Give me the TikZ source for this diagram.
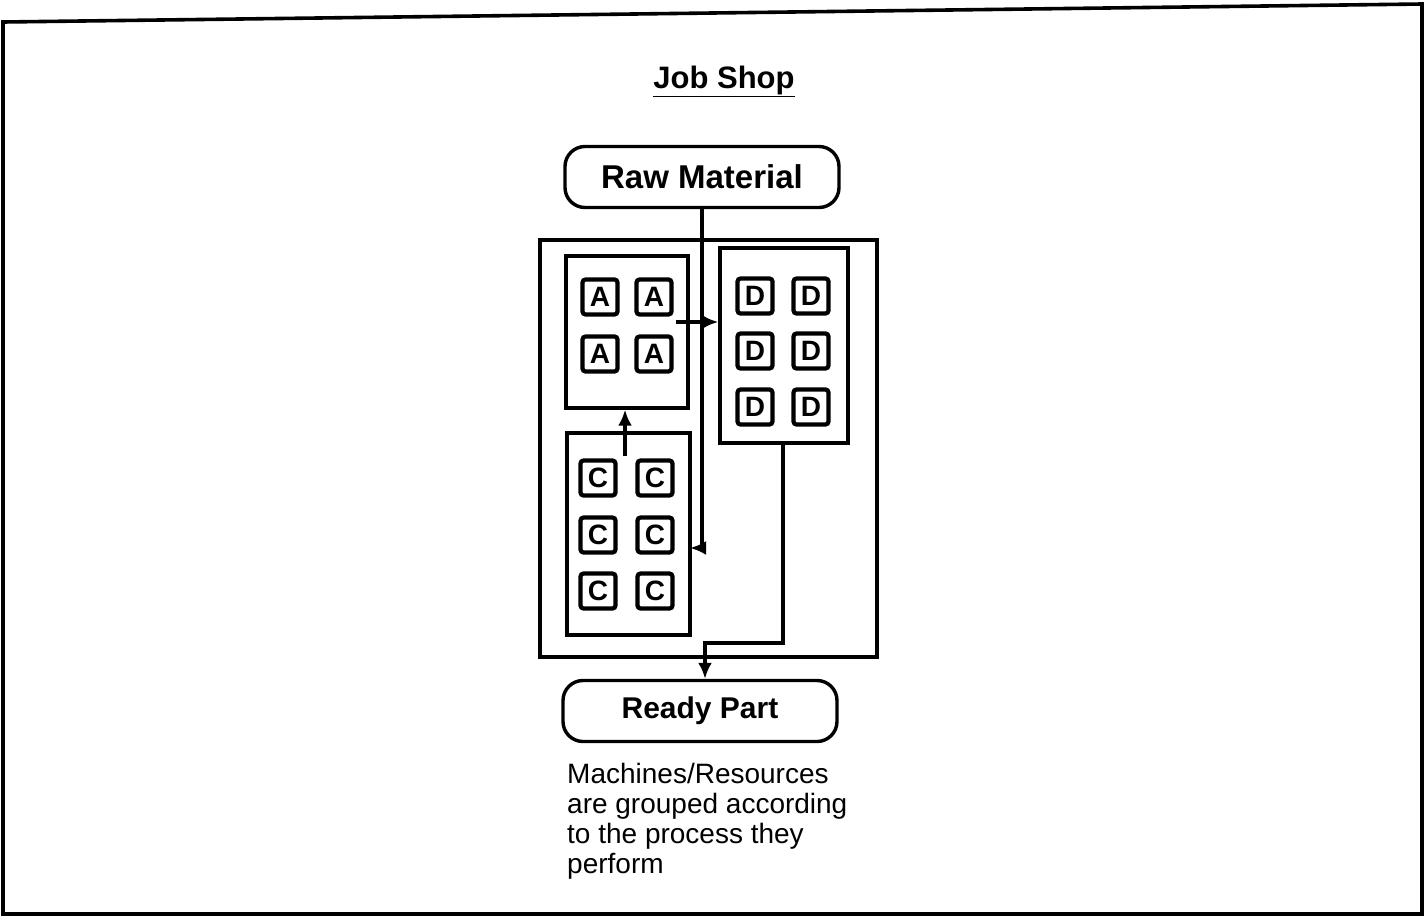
\documentclass[tikz,border=0pt]{standalone}
\usepackage{fontspec}
\setmainfont{Liberation Sans}
\usetikzlibrary{arrows.meta}

\begin{document}
\begin{tikzpicture}[x=1pt,y=-1pt,
  grp/.style={draw,line width=3.4pt,inner sep=0pt},
  endbox/.style={draw,line width=3.4pt,rounded corners=20pt,minimum width=274pt,minimum height=61pt,font=\bfseries\fontsize{30}{36}\selectfont},
  machine/.style={draw,line width=4.2pt,rounded corners=3pt,minimum size=35pt,inner sep=0pt,font=\bfseries\fontsize{28}{28}\selectfont},
  flow/.style={line width=3.4pt,-{Latex[length=16pt,width=14pt]}}]
\useasboundingbox (0,0) rectangle (1425,919);
\draw[line width=3.6pt] (3,22) -- (1422,4) -- (1422,914) -- (3,914) -- cycle;

\node[font=\bfseries\fontsize{31}{36}\selectfont] (title) at (724,81) {\underline{Job Shop}};

\node[endbox,font=\bfseries\fontsize{33}{36}\selectfont] (raw) at (702,177) {Raw Material};
\node[endbox] (ready) at (700,711) {Ready Part};

% shop floor and the process groups
\node[grp,minimum width=337pt,minimum height=417pt] (plant) at (708.5,448.5) {};
\node[grp,minimum width=122pt,minimum height=152pt] (grpA) at (627,332) {};
\node[grp,minimum width=128pt,minimum height=195pt] (grpD) at (784,345.5) {};
\node[grp,minimum width=123pt,minimum height=202pt] (grpC) at (628.5,534) {};

\foreach \x/\c in {600/1,654/2}
  \foreach \y/\r in {297/1,354/2}
    \node[machine] (mA\r\c) at (\x,\y) {A};
\foreach \x/\c in {755/1,811/2}
  \foreach \y/\r in {296/1,351/2,407/3}
    \node[machine] (mD\r\c) at (\x,\y) {D};
\foreach \x/\c in {598/1,655/2}
  \foreach \y/\r in {478/1,535/2,591/3}
    \node[machine] (mC\r\c) at (\x,\y) {C};

% routing of the parts
\coordinate (cIn) at (690,548);
\coordinate (cOut) at (625,456);
\coordinate (aOut) at (676,322);
\coordinate (dOut) at (783,443);
\coordinate (rIn) at (705,643);
\draw[flow] (raw.south) |- (cIn);
\draw[flow] (cOut) -- (cOut |- grpA.south);
\draw[flow] (aOut) -- (aOut -| grpD.west);
\draw[flow] (dOut) |- (rIn) -- (rIn |- ready.north);

\node[anchor=north west,align=left,inner sep=0pt,font=\fontsize{28}{30}\selectfont] (note) at (567,763)
  {Machines/Resources\\are grouped according\\to the process they\\perform};
\end{tikzpicture}
\end{document}
